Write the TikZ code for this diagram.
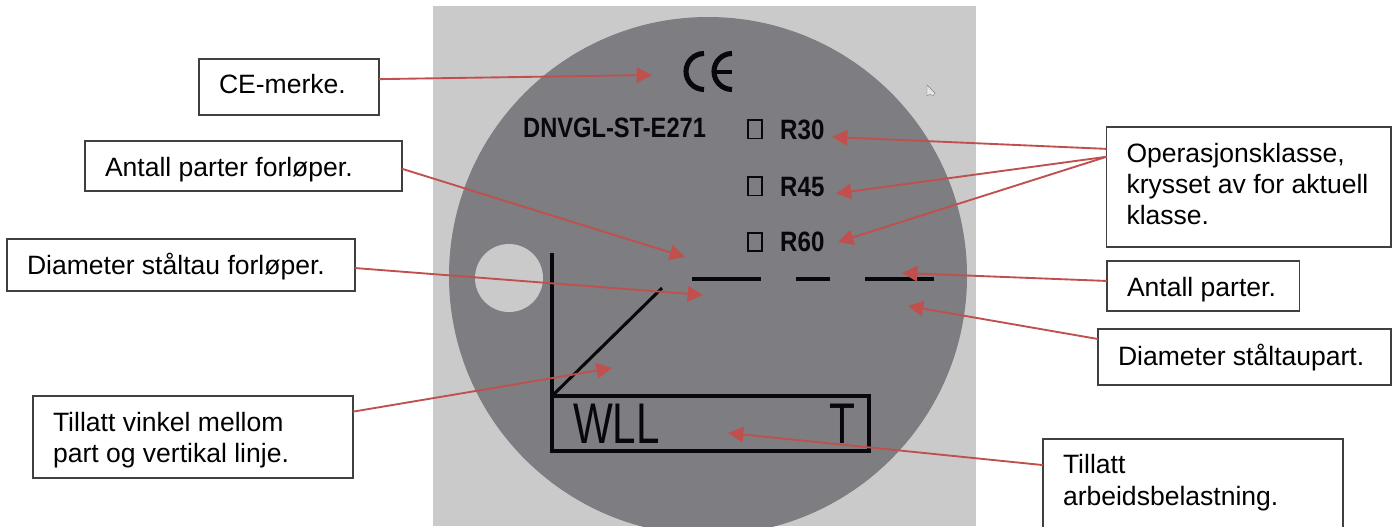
\documentclass[tikz,border=0pt]{standalone}
\usepackage{fontspec}
\setmainfont{Liberation Sans}
\usetikzlibrary{arrows.meta}
\definecolor{platebg}{HTML}{CACACA}
\definecolor{disc}{HTML}{7D7D82}
\definecolor{redline}{HTML}{C0504D}
\definecolor{ink}{HTML}{08080C}
\newcommand{\firsth}[1]{\rule{0pt}{#1pt}}
\newcommand{\lastd}{\rule[-6pt]{0pt}{6pt}}
\tikzset{
  labelbox/.style 2 args={draw=black!75,line width=1.1pt,fill=white,outer sep=0pt,inner xsep=20*.75pt,inner ysep=0pt,
    text width=(#1-40)*.75pt,minimum height=#2*.75pt,align=flush left,font=\fontsize{19.9}{23.3}\selectfont},
  callout/.style={draw=redline,line width=1.4pt,-{Triangle[length=11.5pt,width=11.5pt]}},
  stamp/.style={draw=ink,line width=2.3pt},
  thinstamp/.style={draw=ink,line width=1.4pt},
  boldtext/.style={text=ink,inner sep=0pt,anchor=base west,transform shape,font=\fontsize{21}{21}\selectfont\bfseries},
  widetext/.style={text=ink,inner sep=0pt,anchor=base west,transform shape,font=\fontsize{43}{43}\selectfont},
}
\begin{document}
\begin{tikzpicture}[x=0.75pt,y=-0.75pt]
\useasboundingbox (0,0) rectangle (1399,526);
\clip (0,0) rectangle (1399,526);
% plate
\fill[platebg] (433,6) rectangle (976,526);
\fill[disc] (708,276) circle[radius=259];
\fill[platebg] (509,278) circle[radius=34];
% cursor
\fill[white!80!gray,draw=gray,line width=.3pt] (927,85) -- (927,96) -- (930,94) -- (933,96) -- (935,93) -- cycle;
% CE mark
\draw[draw=ink,line width=3.8pt] (704,53.5) arc[start angle=270,end angle=90,radius=18];
\draw[draw=ink,line width=3.8pt] (732,53.5) arc[start angle=270,end angle=90,radius=18];
\draw[draw=ink,line width=3pt] (716,71.5) -- (732,71.5);
% text on plate
\node[boldtext,xscale=.845] (std) at (523,137) {DNVGL-ST-E271};
\draw[thinstamp] (748,120) rectangle (762,138.5);
\draw[thinstamp] (748,177) rectangle (762,195.5);
\draw[thinstamp] (748,233) rectangle (762,251);
\node[boldtext,xscale=.86] (r30) at (780,139) {R30};
\node[boldtext,xscale=.86] (r45) at (780,196) {R45};
\node[boldtext,xscale=.86] (r60) at (780,251) {R60};
% dashes
\draw[stamp] (692,279) -- (761,279);
\draw[stamp] (796,279) -- (830,279);
\draw[stamp] (865,279) -- (934,279);
% angle figure
\draw[stamp] (552,253) -- (552,451) -- (869,451) -- (869,396) -- (552,396);
\draw[stamp] (552,396) -- (662,288);
\node[widetext,xscale=.735] (wll) at (573,443) {WLL};
\node[widetext,xscale=.74] (tmark) at (829,443) {T};
% targets
\coordinate (tce) at (652,75);
\coordinate (tr30) at (832,137);
\coordinate (tr45) at (836,193.5);
\coordinate (tr60) at (838,242);
\coordinate (tnfore) at (685,257);
\coordinate (tdfore) at (703,295);
\coordinate (tnum) at (902,273);
\coordinate (tdia) at (908,306);
\coordinate (tang) at (612,368);
\coordinate (twll) at (728,433);
% boxes
\node[labelbox={180}{56}] (ce) at (289,87) {\firsth{15}CE-merke.\lastd};
\node[labelbox={317}{50}] (nfore) at (243.5,166) {\firsth{21}Antall parter forløper.\lastd};
\node[labelbox={348}{52}] (dfore) at (181,265) {\firsth{19.5}Diameter ståltau forløper.\lastd};
\node[labelbox={320}{82}] (ang) at (193,437) {\firsth{20.3}Tillatt vinkel mellom\\part og vertikal linje.\lastd};
\node[labelbox={284.5}{120}] (op) at (1248.75,187) {\firsth{15.1}\mbox{Operasjonsklasse,}\\\mbox{krysset av for aktuell}\\\mbox{klasse.}\lastd};
\node[labelbox={192.5}{50}] (num) at (1203.25,286) {\firsth{21}Antall parter.\lastd};
\node[labelbox={293}{56}] (dia) at (1244.5,357) {\firsth{18}Diameter ståltaupart.\lastd};
\node[labelbox={300}{89}] (wl) at (1193,483.5) {\firsth{15}Tillatt\\\mbox{arbeidsbelastning.}\lastd};
% connectors
\draw[callout] (ce.5.4) -- (tce);
\draw[callout] (nfore.-1.4) -- (tnfore);
\draw[callout] (dfore.-1.3) -- (tdfore);
\draw[callout] (ang.9.6) -- (tang);
\draw[callout] (op.165.4) -- (tr30);
\draw[callout] (op.168.1) -- (tr45);
\draw[callout] (op.168.1) -- (tr60);
\draw[callout] (num.177) -- (tnum);
\draw[callout] (dia.173) -- (tdia);
\draw[callout] (wl.173.35) -- (twll);
\end{tikzpicture}
\end{document}
